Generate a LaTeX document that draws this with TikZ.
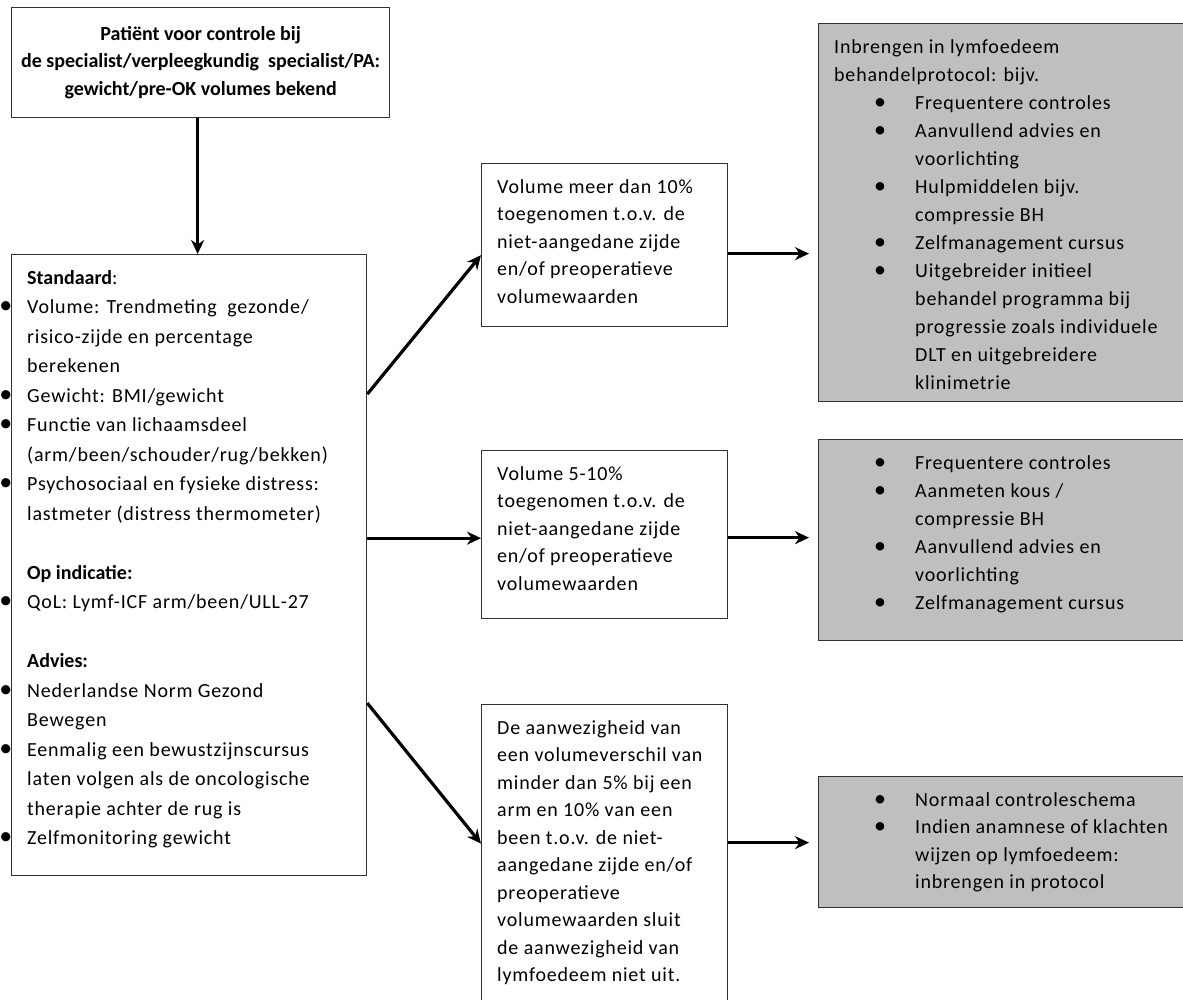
\documentclass[tikz,border=0pt]{standalone}
\usepackage{fontspec}
\setmainfont{Carlito}[LetterSpace=4]
\newfontfamily\headfont{Carlito}
\usetikzlibrary{arrows.meta,positioning}
\definecolor{boxgray}{RGB}{191,191,191}
\definecolor{edgegray}{RGB}{50,50,50}
\tikzstyle{plainbox} = [rectangle, draw=edgegray, line width=1.3pt, anchor=north west, inner sep=0pt]
\tikzstyle{graybox} = [plainbox, fill=boxgray]
\tikzstyle{txt} = [anchor=north west, align=left, inner xsep=16pt, inner ysep=16pt, font=\fontsize{20}{27.5}\selectfont]
\tikzstyle{arrow} = [line width=3.2pt,-{Stealth[length=14pt,width=13pt]}]
\newcommand{\hd}[1]{{\headfont\bfseries #1}}
\newcommand{\sbul}{\llap{\scalebox{1.3}{\textbullet}\hspace{15pt}}}
\newcommand{\gbul}{\hspace*{40pt}\makebox[41pt][l]{\scalebox{1.2}{\textbullet}}}
\newcommand{\gind}{\hspace*{81pt}}
\begin{document}
\begin{tikzpicture}[x=1pt,y=-1pt]
\useasboundingbox (0,0) rectangle (1183,1000);
\clip (0,0) rectangle (1183,1000);

\node (start) [plainbox, minimum width=378pt, minimum height=110pt, align=center, font=\headfont\bfseries\fontsize{20}{27.5}\selectfont] at (11,7) {Patiënt voor controle bij\\de specialist/verpleegkundig\ \ specialist/PA:\\gewicht/pre-OK volumes bekend};

\node (std) [plainbox, minimum width=355pt, minimum height=621pt] at (11,254) {};
\node (stdtxt) [txt, font=\fontsize{20}{29.5}\selectfont] at (std.north west) {\hd{Standaard}:\\
\sbul Volume: Trendmeting\ \ gezonde/\\risico-zijde en percentage\\berekenen\\
\sbul Gewicht: BMI/gewicht\\
\sbul Functie van lichaamsdeel\\(arm/been/schouder/rug/bekken)\\
\sbul Psychosociaal en fysieke distress:\\lastmeter (distress thermometer)\\[29.5pt]
\hd{Op indicatie:}\\
\sbul QoL: Lymf-ICF arm/been/ULL-27\\[29.5pt]
\hd{Advies:}\\
\sbul Nederlandse Norm Gezond\\Bewegen\\
\sbul Eenmalig een bewustzijnscursus\\laten volgen als de oncologische\\therapie achter de rug is\\
\sbul Zelfmonitoring gewicht};
\draw [arrow] ([xshift=-3pt]start.south) -- ([xshift=-3pt]start.south |- std.north);

% middle column
\node (vol10) [plainbox, minimum width=246pt, minimum height=163pt] at (481,163) {};
\node (vol10txt) [txt] at (vol10.north west) {Volume meer dan 10\%\\toegenomen t.o.v. de\\niet-aangedane zijde\\en/of preoperatieve\\volumewaarden};
\node (vol5) [plainbox, minimum width=246pt, minimum height=168pt] at (481,450) {};
\node (vol5txt) [txt] at (vol5.north west) {Volume 5-10\%\\toegenomen t.o.v. de\\niet-aangedane zijde\\en/of preoperatieve\\volumewaarden};
\node (vol0) [plainbox, minimum width=246pt, minimum height=320pt] at (481,704) {};
\node (vol0txt) [txt] at (vol0.north west) {De aanwezigheid van\\een volumeverschil van\\minder dan 5\% bij een\\arm en 10\% van een\\been t.o.v. de niet-\\aangedane zijde en/of\\preoperatieve\\volumewaarden sluit\\de aanwezigheid van\\lymfoedeem niet uit.};

\draw [arrow] ([yshift=171pt]std.east) -- ([yshift=-10pt]vol10.west);
\draw [arrow] ([yshift=27pt]std.east) -- ([yshift=27pt]std.east -| vol5.west);
\draw [arrow] ([yshift=-138pt]std.east) -- ([yshift=21pt]vol0.west);

% right column
\node (plan10) [graybox, minimum width=380pt, minimum height=378pt] at (818,23) {};
\node (plan10txt) [txt, font=\fontsize{20}{28}\selectfont] at (plan10.north west) {Inbrengen in lymfoedeem\\behandelprotocol: bijv.\\
\gbul Frequentere controles\\
\gbul Aanvullend advies en\\\gind voorlichting\\
\gbul Hulpmiddelen bijv.\\\gind compressie BH\\
\gbul Zelfmanagement cursus\\
\gbul Uitgebreider initieel\\\gind behandel programma bij\\\gind progressie zoals individuele\\\gind DLT en uitgebreidere\\\gind klinimetrie};
\node (plan5) [graybox, minimum width=380pt, minimum height=201pt] at (818,439) {};
\node (plan5txt) [txt, font=\fontsize{20}{28}\selectfont] at (plan5.north west) {\gbul Frequentere controles\\
\gbul Aanmeten kous /\\\gind compressie BH\\
\gbul Aanvullend advies en\\\gind voorlichting\\
\gbul Zelfmanagement cursus};
\node (plan0) [graybox, minimum width=380pt, minimum height=131pt] at (818,776) {};
\node (plan0txt) [txt] at (plan0.north west) {\gbul Normaal controleschema\\
\gbul Indien anamnese of klachten\\\gind wijzen op lymfoedeem:\\\gind inbrengen in protocol};

\draw [arrow, shorten >=9pt] ([yshift=-8.5pt]vol10.east) -- ([yshift=-8.5pt]vol10.east -| plan10.west);
\draw [arrow, shorten >=9pt] ([yshift=-3pt]vol5.east) -- ([yshift=-3pt]vol5.east -| plan5.west);
\draw [arrow, shorten >=9pt] ([yshift=22pt]vol0.east) -- ([yshift=22pt]vol0.east -| plan0.west);

\end{tikzpicture}
\end{document}
